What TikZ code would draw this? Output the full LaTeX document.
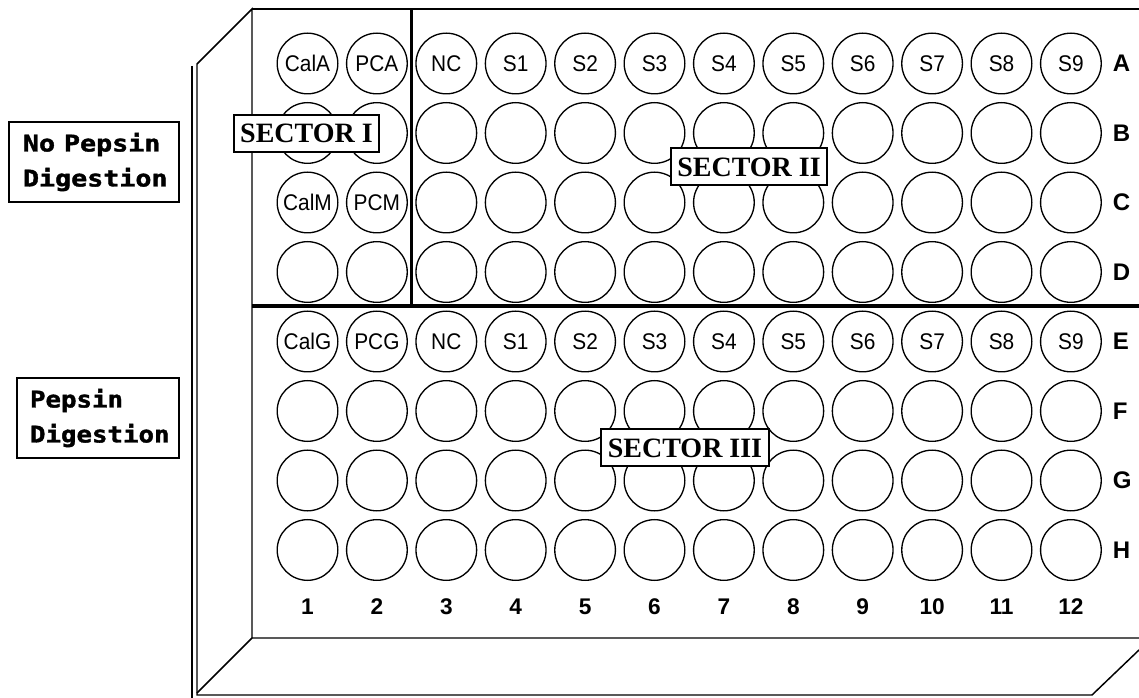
\documentclass[tikz,border=0pt]{standalone}
\usepackage{fontspec}
\setmainfont{Liberation Serif}
\newfontfamily\wellfont{Liberation Sans}
\newfontfamily\sidefont{DejaVu Sans Mono}[BoldFeatures={FakeBold=1.5}]
\usetikzlibrary{positioning}

\begin{document}
\begin{tikzpicture}[x=0.75pt, y=-0.75pt,
    well/.style={circle, draw, line width=1pt, minimum size=45.5pt, inner sep=0pt},
    welltxt/.style={inner sep=0pt, font=\wellfont\fontsize{17}{17}\selectfont},
    rowlbl/.style={inner sep=0pt, font=\wellfont\bfseries\fontsize{18}{18}\selectfont},
    collbl/.style={inner sep=0pt, font=\wellfont\bfseries\fontsize{17}{17}\selectfont},
    sector/.style={rectangle, draw, fill=white, line width=1.5pt, inner xsep=5pt, minimum height=27.75pt, font=\bfseries\fontsize{21}{21}\selectfont},
    sidebox/.style={rectangle, draw, line width=1.5pt, align=left, minimum height=60pt, inner xsep=0pt, font=\sidefont\bfseries\fontsize{17.25}{26.25}\selectfont},
    divider/.style={line width=2.6pt}]
    \useasboundingbox (0,0) rectangle (1139,698);

    % plate outline
    \draw[line width=1.9pt] (252,9) -- (1139,9);
    \draw[line width=1.1pt] (1139,638) -- (252,638) -- (252,9) -- (197,64) -- (197,695) -- (1092,695) -- (1139,650);
    \draw[line width=1.1pt] (252,638) -- (197,693);
    \draw[line width=1pt] (192,66) -- (192,698);

    % wells
    \foreach \r [count=\j from 0] in {A,B,C,D,E,F,G,H}
      \foreach \c in {1,...,12}
        \node[well] (w-\r-\c) at ({307.5+69.4*(\c-1)}, {63.5+69.5*\j}) {};

    \foreach \r/\a/\b in {A/CalA/PCA, C/CalM/PCM, E/CalG/PCG} {
      \node[welltxt] (t-\r-1) at (w-\r-1) {\scalebox{0.92}[1]{\a}};
      \node[welltxt] (t-\r-2) at (w-\r-2) {\scalebox{0.92}[1]{\b}};
    }
    \foreach \r in {A,E}
      \foreach \c/\t in {3/NC,4/S1,5/S2,6/S3,7/S4,8/S5,9/S6,10/S7,11/S8,12/S9}
        \node[welltxt] (t-\r-\c) at (w-\r-\c) {\scalebox{0.92}[1]{\t}};

    \foreach \r in {A,B,C,D,E,F,G,H}
      \node[rowlbl, right=8pt of w-\r-12] (r-\r) {\r};
    \foreach \c in {1,...,12}
      \node[collbl, below=13pt of w-H-\c] (c-\c) {\c};

    % sectors
    \draw[divider] (252,306) -- (1139,306);
    \draw[divider] (411.6,9) -- (411.6,306);
    \node[sector] (sec1) at (306.5,133.5) {SECTOR I};
    \node[sector] (sec2) at (749,167) {SECTOR II};
    \node[sector] (sec3) at (685,448) {SECTOR III};

    \node[sidebox, minimum width=127.5pt, text width=106.5pt] (nopep) at (94,162) {\scalebox{1.16}[1]{No Pepsin}\\\scalebox{1.16}[1]{Digestion}};
    \node[sidebox, minimum width=121.5pt, text width=102pt] (pep) at (98,418) {\scalebox{1.12}[1]{Pepsin}\\\scalebox{1.12}[1]{Digestion}};
\end{tikzpicture}
\end{document}
